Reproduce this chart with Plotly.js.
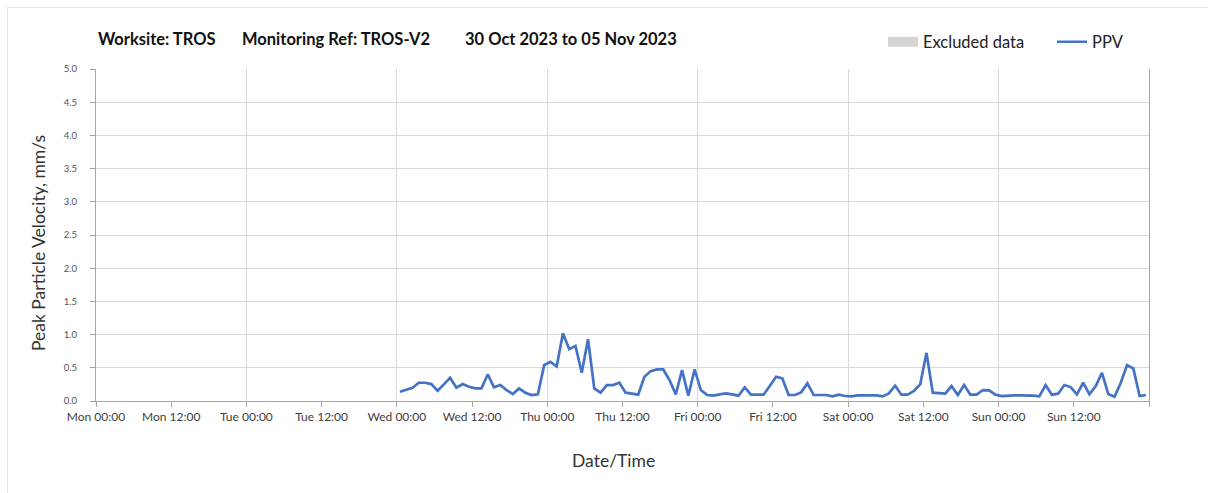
<!DOCTYPE html>
<html><head><meta charset="utf-8">
<script src="https://cdn.plot.ly/plotly-3.0.1.min.js"></script>
<style>
html,body{margin:0;padding:0;background:#fff;overflow:hidden;}
#frame{position:absolute;left:7px;top:7px;width:1210px;height:500px;border:1px solid #e6e6e6;box-sizing:border-box;}
#chart{position:absolute;left:0;top:0;width:1208px;height:493px;}
</style>
</head><body><div id="frame"></div><div id="chart"></div>
<script>
// ---- data ----
const seriesNames = ['Excluded data', 'PPV'];
const startTimeUTC = [2023, 10, 1, 0, 30];   // first reading: Wed 01 Nov 2023 00:30, hourly readings
const ppvValues = [
  0.14, 0.165, 0.2, 0.275, 0.275, 0.255, 0.155, 0.25, 0.35, 0.2,
  0.255, 0.215, 0.19, 0.19, 0.4, 0.205, 0.24, 0.165, 0.105, 0.19,
  0.125, 0.09, 0.1, 0.54, 0.59, 0.52, 1.02, 0.78, 0.83, 0.425,
  0.93, 0.19, 0.125, 0.24, 0.24, 0.275, 0.125, 0.11, 0.095, 0.365,
  0.45, 0.475, 0.475, 0.315, 0.1, 0.465, 0.08, 0.475, 0.165, 0.09,
  0.08, 0.1, 0.115, 0.1, 0.08, 0.205, 0.095, 0.095, 0.095, 0.225,
  0.365, 0.34, 0.09, 0.09, 0.13, 0.265, 0.09, 0.09, 0.09, 0.07,
  0.095, 0.075, 0.07, 0.085, 0.085, 0.085, 0.085, 0.07, 0.115, 0.23,
  0.095, 0.095, 0.15, 0.25, 0.725, 0.125, 0.12, 0.11, 0.225, 0.09,
  0.24, 0.095, 0.095, 0.165, 0.16, 0.095, 0.075, 0.085, 0.085, 0.085,
  0.085, 0.08, 0.07, 0.24, 0.095, 0.11, 0.24, 0.21, 0.1, 0.275,
  0.1, 0.225, 0.425, 0.105, 0.065, 0.275, 0.54, 0.49, 0.075, 0.09
];
const xRange = ['2023-10-30 00:00', '2023-11-06 00:00'];
const xTickTimes = [
  '2023-10-30 00:00', '2023-10-30 12:00', '2023-10-31 00:00', '2023-10-31 12:00',
  '2023-11-01 00:00', '2023-11-01 12:00', '2023-11-02 00:00', '2023-11-02 12:00',
  '2023-11-03 00:00', '2023-11-03 12:00', '2023-11-04 00:00', '2023-11-04 12:00',
  '2023-11-05 00:00', '2023-11-05 12:00', '2023-11-06 00:00'
];
const xTickLabels = [
  'Mon 00:00', 'Mon 12:00', 'Tue 00:00', 'Tue 12:00', 'Wed 00:00', 'Wed 12:00',
  'Thu 00:00', 'Thu 12:00', 'Fri 00:00', 'Fri 12:00', 'Sat 00:00', 'Sat 12:00',
  'Sun 00:00', 'Sun 12:00', ''
];
const yRange = [0, 5];
const titleParts = ['Worksite: TROS', 'Monitoring Ref: TROS-V2', '30 Oct 2023 to 05 Nov 2023'];
const xTitle = 'Date/Time';
const yTitle = 'Peak Particle Velocity, mm/s';

// ---- build timestamps (hourly readings) ----
const t0 = Date.UTC.apply(null, startTimeUTC);
const ppvTimes = ppvValues.map((v, i) =>
  new Date(t0 + i * 3600000).toISOString().slice(0, 16).replace('T', ' '));

const FONT = 'Lato, "Open Sans", sans-serif';
const W = 1208, H = 493;

const traces = [
  {x: [null], y: [null], name: seriesNames[0], type: 'scatter', mode: 'lines',
   line: {color: '#d4d4d4', width: 10}, hoverinfo: 'skip'},
  {x: ppvTimes, y: ppvValues, name: seriesNames[1], type: 'scatter', mode: 'lines',
   line: {color: '#4472c4', width: 2.7}},
  {x: [], y: [], xaxis: 'x2', showlegend: false, hoverinfo: 'skip', type: 'scatter', mode: 'lines'}
];

const titleX = [96, 240, 463];
const annotations = titleParts.map((t, i) => ({
  text: '<b>' + t + '</b>', xref: 'paper', yref: 'paper', showarrow: false,
  x: (titleX[i] - 96) / (1149 - 96), xanchor: 'left',
  y: 1 + (69 - 39) / (401 - 69), yanchor: 'middle',
  font: {family: FONT, size: 16.5, color: '#111'}
}));
annotations.push({
  text: xTitle, xref: 'paper', yref: 'paper', showarrow: false,
  x: (613 - 96) / (1149 - 96), xanchor: 'center',
  y: -(460 - 401) / (401 - 69), yanchor: 'middle',
  font: {family: FONT, size: 17.5, color: '#333'}
});
annotations.push({
  text: yTitle, xref: 'paper', yref: 'paper', showarrow: false, textangle: -90,
  x: -(96 - 38) / (1149 - 96), xanchor: 'center',
  y: (401 - 243) / (401 - 69), yanchor: 'middle',
  font: {family: FONT, size: 17.5, color: '#333'}
});

const layout = {
  width: W, height: H,
  paper_bgcolor: 'rgba(0,0,0,0)', plot_bgcolor: '#fff',
  margin: {l: 96, r: 59, t: 69, b: 92},
  font: {family: FONT, color: '#404040'},
  showlegend: true,
  legend: {
    orientation: 'h', xref: 'container', yref: 'container',
    x: 883 / W, xanchor: 'left', y: 1 - 42 / H, yanchor: 'middle',
    font: {family: FONT, size: 16.5, color: '#222'},
    traceorder: 'normal', itemwidth: 30, entrywidth: 124, bgcolor: 'rgba(0,0,0,0)'
  },
  annotations: annotations,
  xaxis: {
    type: 'date', range: xRange, tickmode: 'array',
    tickvals: xTickTimes, ticktext: xTickLabels,
    ticks: 'outside', ticklen: 5, tickcolor: '#a6a6a6',
    showline: true, linecolor: '#a6a6a6', linewidth: 1,
    showgrid: false, zeroline: false,
    tickfont: {family: FONT, size: 12, color: '#404040'}
  },
  xaxis2: {
    type: 'date', range: xRange, overlaying: 'x', anchor: 'y', side: 'bottom',
    tick0: '2023-10-30 00:00', dtick: 86400000,
    showgrid: true, gridcolor: '#d9d9d9', gridwidth: 1,
    showticklabels: false, ticks: '', showline: false, zeroline: false
  },
  yaxis: {
    range: yRange, dtick: 0.5, tickformat: '.1f',
    ticks: 'outside', ticklen: 5, tickcolor: '#a6a6a6', ticklabelstandoff: 11,
    showline: true, linecolor: '#a6a6a6', linewidth: 1, mirror: true,
    showgrid: true, gridcolor: '#d9d9d9', gridwidth: 1, zeroline: false,
    tickfont: {family: FONT, size: 9.5, color: '#555'}
  }
};

Plotly.newPlot('chart', traces, layout, {displayModeBar: false, responsive: false});
</script>
</body></html>
